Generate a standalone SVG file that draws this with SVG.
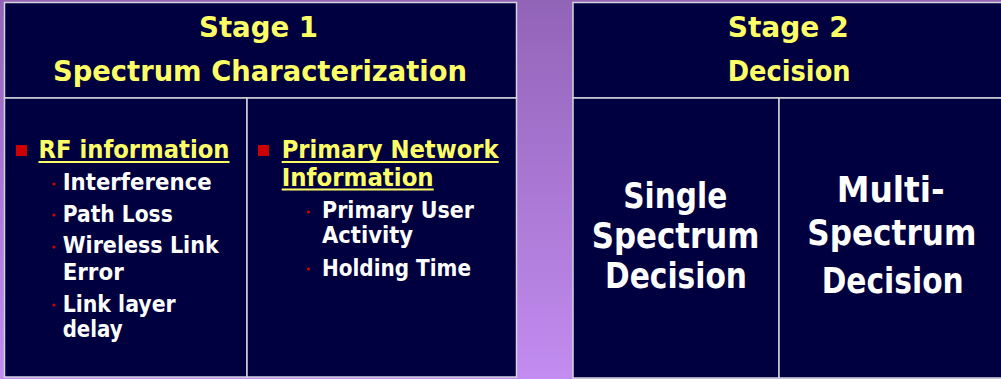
<svg xmlns="http://www.w3.org/2000/svg" width="1001" height="379" viewBox="0 0 1001 379">
<defs>
<linearGradient id="bg" x1="0" y1="0" x2="0" y2="1">
<stop offset="0" stop-color="#9264b8"/>
<stop offset="1" stop-color="#c28cf0"/>
</linearGradient>
<style>
.box{fill:#000040;stroke:#d4d4dc;stroke-width:1.5}
.t{font-family:"DejaVu Sans","Liberation Sans",sans-serif;font-weight:bold}
.hd{fill:#ffff66;font-size:29px}
.yl{fill:#ffff66;font-size:24px}
.wt{fill:#ffffff;font-size:23px}
.big{fill:#ffffff;font-size:35px}
.ul{stroke:#ffff66;stroke-width:2}
.sq{fill:#cc0000}
.dot{fill:#d00000}
</style>
</defs>
<rect x="0" y="0" width="1001" height="379" fill="url(#bg)"/>

<g id="stage1-header">
<rect class="box" x="4.5" y="2.5" width="512" height="95.5"/>
<text class="t hd" x="199" y="37.3" textLength="119" lengthAdjust="spacingAndGlyphs">Stage 1</text>
<text class="t hd" x="53" y="81" textLength="414" lengthAdjust="spacingAndGlyphs">Spectrum Characterization</text>
</g>

<g id="stage1-rf">
<rect class="box" x="4.5" y="98" width="242.5" height="279"/>
<rect class="sq" x="16" y="145" width="11" height="11"/>
<text class="t yl" x="38.5" y="158" textLength="191" lengthAdjust="spacingAndGlyphs">RF information</text>
<line class="ul" x1="38.5" y1="162" x2="229.5" y2="162"/>
<circle class="dot" cx="54" cy="184" r="1.6"/>
<text class="t wt" x="62.7" y="190" textLength="149" lengthAdjust="spacingAndGlyphs">Interference</text>
<circle class="dot" cx="54" cy="215" r="1.6"/>
<text class="t wt" x="62.7" y="221.5" textLength="110" lengthAdjust="spacingAndGlyphs">Path Loss</text>
<circle class="dot" cx="54" cy="247" r="1.6"/>
<text class="t wt" x="62.7" y="253" textLength="156" lengthAdjust="spacingAndGlyphs">Wireless Link</text>
<text class="t wt" x="62.7" y="279.5" textLength="61" lengthAdjust="spacingAndGlyphs">Error</text>
<circle class="dot" cx="54" cy="305" r="1.6"/>
<text class="t wt" x="62.7" y="311.5" textLength="113" lengthAdjust="spacingAndGlyphs">Link layer</text>
<text class="t wt" x="62.7" y="336.5" textLength="60" lengthAdjust="spacingAndGlyphs">delay</text>
</g>

<g id="stage1-primary">
<rect class="box" x="247" y="98" width="269.5" height="279"/>
<rect class="sq" x="258" y="145" width="11" height="11"/>
<text class="t yl" x="281.7" y="158" textLength="217" lengthAdjust="spacingAndGlyphs">Primary Network</text>
<line class="ul" x1="281.7" y1="162" x2="498.7" y2="162"/>
<text class="t yl" x="281.7" y="185.5" textLength="152" lengthAdjust="spacingAndGlyphs">Information</text>
<line class="ul" x1="281.7" y1="189.5" x2="433.7" y2="189.5"/>
<circle class="dot" cx="308.5" cy="212" r="1.6"/>
<text class="t wt" x="322" y="218" textLength="152" lengthAdjust="spacingAndGlyphs">Primary User</text>
<text class="t wt" x="322" y="243" textLength="91" lengthAdjust="spacingAndGlyphs">Activity</text>
<circle class="dot" cx="308.5" cy="269" r="1.6"/>
<text class="t wt" x="322" y="275.5" textLength="149" lengthAdjust="spacingAndGlyphs">Holding Time</text>
</g>

<g id="stage2-header">
<rect class="box" x="573" y="2.5" width="440" height="95.5"/>
<text class="t hd" x="727.7" y="37" textLength="121" lengthAdjust="spacingAndGlyphs">Stage 2</text>
<text class="t hd" x="727.7" y="81" textLength="123" lengthAdjust="spacingAndGlyphs">Decision</text>
</g>

<g id="stage2-single">
<rect class="box" x="573" y="98" width="206" height="280"/>
<text class="t big" x="623.3" y="208" textLength="104" lengthAdjust="spacingAndGlyphs">Single</text>
<text class="t big" x="591.7" y="248" textLength="167.6" lengthAdjust="spacingAndGlyphs">Spectrum</text>
<text class="t big" x="605" y="288" textLength="142" lengthAdjust="spacingAndGlyphs">Decision</text>
</g>

<g id="stage2-multi">
<rect class="box" x="779" y="98" width="234" height="280"/>
<text class="t big" x="836.7" y="201.7" textLength="108" lengthAdjust="spacingAndGlyphs">Multi-</text>
<text class="t big" x="807.3" y="245" textLength="169" lengthAdjust="spacingAndGlyphs">Spectrum</text>
<text class="t big" x="821.7" y="293" textLength="142" lengthAdjust="spacingAndGlyphs">Decision</text>
</g>

<g id="connectors"/>
</svg>
